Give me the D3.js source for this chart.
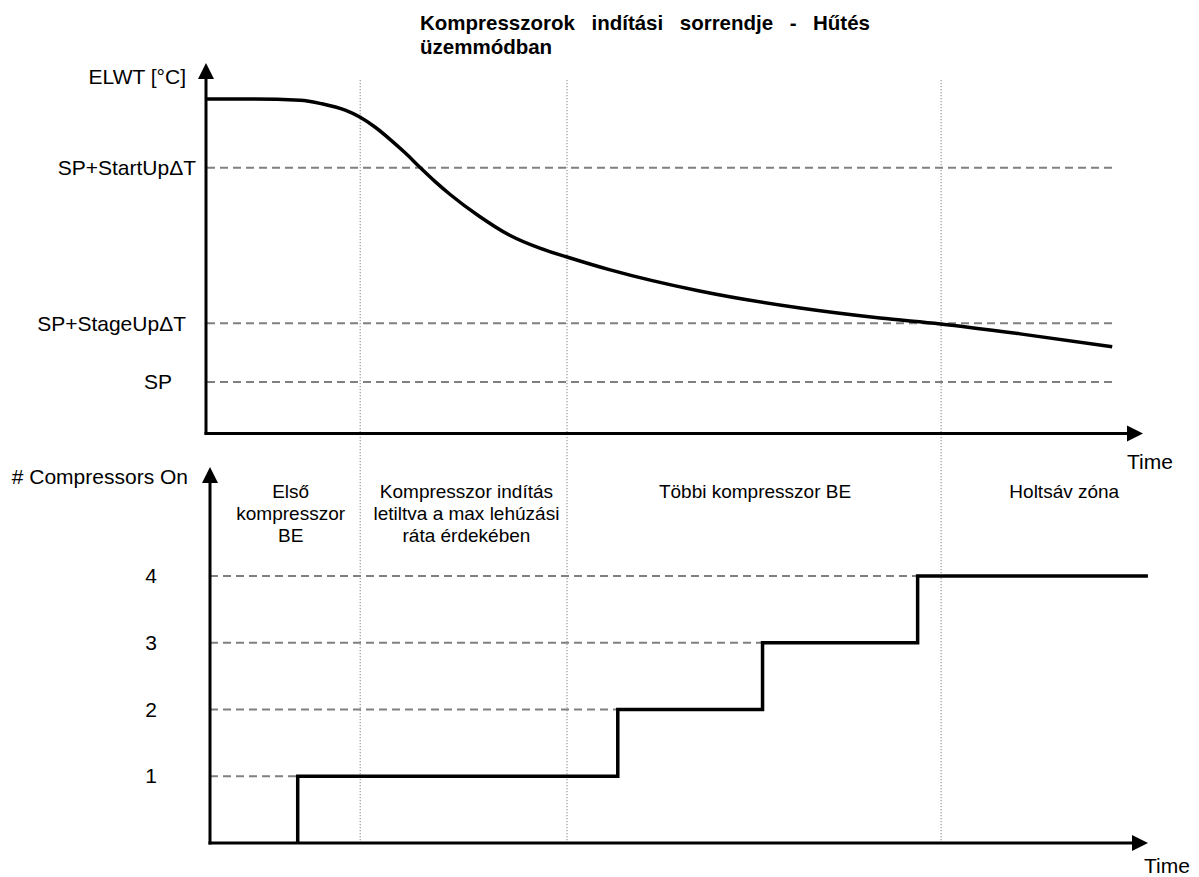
<!DOCTYPE html>
<html>
<head>
<meta charset="utf-8">
<script src="https://cdn.jsdelivr.net/npm/d3@7/dist/d3.min.js"></script>
<style>
  html, body { margin: 0; padding: 0; background: #fff; }
  svg { display: block; }
  text { font-family: "Liberation Sans", Arial, sans-serif; fill: #000; }
</style>
</head>
<body>
<svg id="chart" width="1199" height="877"></svg>
<script>
// ---------------- DATA ----------------
const titleLines = ["Kompresszorok indítási sorrendje - Hűtés", "üzemmódban"];

// Top panel: ELWT curve (time in arbitrary units 0..100, temperature in °C-like units)
const curveTime = [0, 5, 9.9, 12.2, 14.7, 16.3, 17.9, 19.5, 21.1, 22.7, 24.3, 25.9, 29.0, 32.2, 35.4, 38.3, 42.9, 52.4, 63.1, 71.6, 78.0, 86.5, 96.3];
const curveTemp = [11.82, 11.82, 11.80, 11.74, 11.63, 11.51, 11.34, 11.13, 10.90, 10.65, 10.41, 10.19, 9.82, 9.50, 9.28, 9.13, 8.91, 8.55, 8.26, 8.09, 7.99, 7.82, 7.60];

// Threshold lines on top panel
const thresholdNames  = ["SP+StartUpΔT", "SP+StageUpΔT", "SP"];
const thresholdValues = [10.65, 8.0, 7.0];
const thresholdEnd = 96.3;

// Bottom panel: compressors staged on
const stageTimes  = [9.65, 9.65, 43.7, 59.1, 75.6, 100.1];
const stageCounts = [0, 1, 2, 3, 4, 4];
const countTicks  = [1, 2, 3, 4];

// Zone boundaries (dotted vertical lines) and zone labels
const zoneBounds = [16.3, 38.3, 78.1];
const zoneLabels = [
  ["Első", "kompresszor", "BE"],
  ["Kompresszor indítás", "letiltva a max lehúzási", "ráta érdekében"],
  ["Többi kompresszor BE"],
  ["Holtsáv zóna"]
];
const zoneCenters = [8.9, 27.6, 58.3, 91.2];

const axisLabels = { topY: "ELWT [°C]", bottomY: "# Compressors On", x: "Time" };

// ---------------- LAYOUT ----------------
const svg = d3.select("#chart");
const x = d3.scaleLinear().domain([0, 100]).range([207, 1147]);
const yTop = d3.scaleLinear().domain([7, 8]).range([382, 323.3]);
const yBot = d3.scaleLinear().domain([0, 4]).range([843, 576]);

const gray = "#808080";
const FS = "21px";

// Title (justified across 420..870)
const t1 = svg.append("text").attr("x", 420).attr("y", 30)
  .style("font-size", "20.5px").style("font-weight", "bold").text(titleLines[0]);
const natural = t1.node().getComputedTextLength();
const gaps = titleLines[0].split(" ").length - 1;
t1.style("word-spacing", ((450 - natural) / gaps) + "px");
svg.append("text").attr("x", 420).attr("y", 54)
  .style("font-size", "20.5px").style("font-weight", "bold").text(titleLines[1]);

// Dotted zone lines (span both panels)
svg.selectAll("line.zone").data(zoneBounds).join("line")
  .attr("class", "zone")
  .attr("x1", d => x(d)).attr("x2", d => x(d))
  .attr("y1", 80).attr("y2", 843)
  .attr("stroke", "#9a9a9a").attr("stroke-width", 1.2)
  .attr("stroke-dasharray", "1.2,1.8");

// ---------- Top panel ----------
svg.selectAll("line.thr").data(thresholdValues).join("line")
  .attr("class", "thr")
  .attr("x1", x(0)).attr("x2", x(thresholdEnd))
  .attr("y1", d => yTop(d)).attr("y2", d => yTop(d))
  .attr("stroke", gray).attr("stroke-width", 2).attr("stroke-dasharray", "8,5");

const topAxis = d3.axisLeft(yTop).tickValues(thresholdValues)
  .tickFormat((d, i) => thresholdNames[i]).tickSize(0).tickPadding(10);
const gTopAxis = svg.append("g").attr("transform", "translate(206,0)").call(topAxis);
gTopAxis.select(".domain").remove();
const labelShift = [0, -10, -24];
gTopAxis.selectAll(".tick text")
  .style("font-size", FS).style("font-family", "'Liberation Sans', Arial, sans-serif")
  .attr("fill", "#000")
  .attr("dx", (d, i) => labelShift[i]);

const line = d3.line().x((d, i) => x(curveTime[i])).y((d, i) => yTop(curveTemp[i]))
  .curve(d3.curveMonotoneX);
svg.append("path").datum(curveTemp).attr("d", line)
  .attr("fill", "none").attr("stroke", "#000").attr("stroke-width", 3.5);

svg.append("line").attr("x1", 206).attr("x2", 206).attr("y1", 78).attr("y2", 434.5)
  .attr("stroke", "#000").attr("stroke-width", 3);
svg.append("line").attr("x1", 204.5).attr("x2", 1130).attr("y1", 433.5).attr("y2", 433.5)
  .attr("stroke", "#000").attr("stroke-width", 3);
svg.append("path").attr("d", "M206,63 L214,79 L198,79 Z").attr("fill", "#000");
svg.append("path").attr("d", "M1143,433.5 L1127,425.5 L1127,441.5 Z").attr("fill", "#000");

svg.append("text").attr("x", 186).attr("y", 84).attr("text-anchor", "end")
  .style("font-size", FS).text(axisLabels.topY);
svg.append("text").attr("x", 1127).attr("y", 469)
  .style("font-size", FS).text(axisLabels.x);

// ---------- Bottom panel ----------
const levelReach = countTicks.map(c => stageTimes[stageCounts.indexOf(c)]);
svg.selectAll("line.lvl").data(countTicks).join("line")
  .attr("class", "lvl")
  .attr("x1", 210).attr("x2", (d, i) => x(levelReach[i]))
  .attr("y1", d => yBot(d)).attr("y2", d => yBot(d))
  .attr("stroke", gray).attr("stroke-width", 2).attr("stroke-dasharray", "8,5");

const botAxis = d3.axisLeft(yBot).tickValues(countTicks).tickFormat(d3.format("d"))
  .tickSize(0).tickPadding(0);
const gBotAxis = svg.append("g").attr("transform", "translate(151,0)").call(botAxis);
gBotAxis.select(".domain").remove();
gBotAxis.selectAll(".tick text")
  .style("font-size", FS).style("font-family", "'Liberation Sans', Arial, sans-serif")
  .attr("fill", "#000").attr("text-anchor", "middle").attr("x", 0);

const step = d3.line().x((d, i) => x(stageTimes[i])).y((d, i) => yBot(stageCounts[i]))
  .curve(d3.curveStepAfter);
svg.append("path").datum(stageCounts).attr("d", step)
  .attr("fill", "none").attr("stroke", "#000").attr("stroke-width", 3.5)
  .attr("stroke-linejoin", "miter");

svg.append("line").attr("x1", 210).attr("x2", 210).attr("y1", 482).attr("y2", 844.5)
  .attr("stroke", "#000").attr("stroke-width", 3);
svg.append("line").attr("x1", 208.5).attr("x2", 1134).attr("y1", 843).attr("y2", 843)
  .attr("stroke", "#000").attr("stroke-width", 3);
svg.append("path").attr("d", "M210,467 L218,483 L202,483 Z").attr("fill", "#000");
svg.append("path").attr("d", "M1148,843 L1132,835 L1132,851 Z").attr("fill", "#000");

svg.append("text").attr("x", 188).attr("y", 484).attr("text-anchor", "end")
  .style("font-size", FS).text(axisLabels.bottomY);
svg.append("text").attr("x", 1144).attr("y", 873)
  .style("font-size", FS).text(axisLabels.x);

zoneLabels.forEach((lines, zi) => {
  const t = svg.append("text").attr("text-anchor", "middle").style("font-size", "19px");
  lines.forEach((s, li) => {
    t.append("tspan").attr("x", x(zoneCenters[zi])).attr("y", 498 + li * 22).text(s);
  });
});
</script>
</body>
</html>
